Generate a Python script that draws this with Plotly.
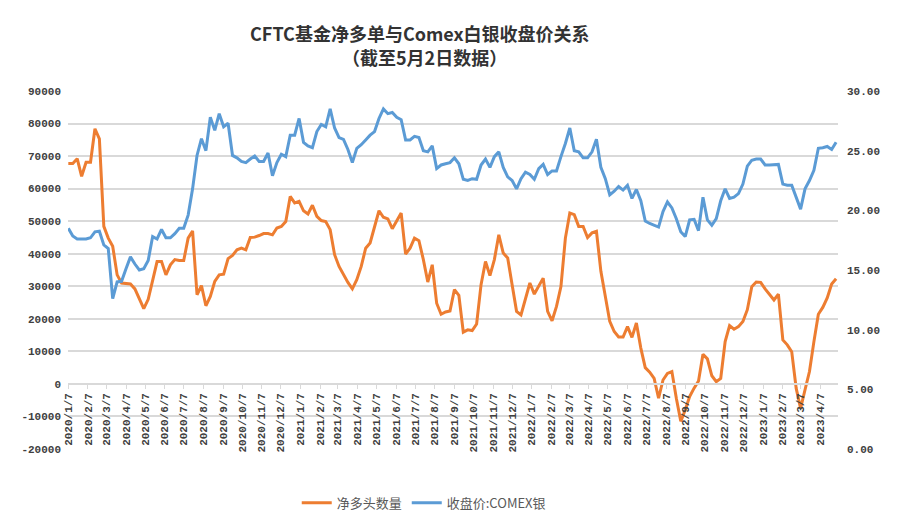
import pandas as pd
import plotly.graph_objects as go

# Weekly CFTC report dates (Tuesdays) 2020/1/7 .. 2023/5/2
dates = pd.date_range("2020-01-07", periods=174, freq="7D")

net_long = [
    67700, 67700, 69200, 63800, 68100, 68100, 78400, 75300, 48400, 44800,
    42300, 33500, 31000, 30800, 30700, 29200, 26400, 23100, 26000, 31500,
    37600, 37600, 33500, 36600, 38200, 37900, 37900, 44800, 47000, 27400,
    30200, 24000, 26900, 31500, 33500, 33700, 38500, 39500, 41200, 41700,
    41200, 45000, 45100, 45600, 46200, 46200, 45800, 47900, 48400, 49900,
    57600, 55600, 56100, 53200, 52200, 54900, 51500, 50200, 49900, 47400,
    39700, 36100, 33500, 31200, 29200, 32000, 36100, 41700, 43300, 47900,
    53200, 51200, 50700, 47700, 49900, 52500, 39900, 41700, 44800, 44000,
    38200, 31300, 36600, 24800, 21400, 22100, 22400, 29000, 27200, 15900,
    16600, 16400, 18400, 30500, 37600, 33300, 38200, 45800, 40200, 38700,
    30500, 22300, 21200, 26400, 31000, 27600, 29900, 32500, 22300, 19400,
    23800, 29900, 44800, 52500, 52000, 48400, 48400, 45000, 46400, 46900,
    34600, 26400, 19200, 16100, 14400, 14400, 17600, 14300, 18700, 11000,
    5000, 3600, 1700, -4400, 1200, 3200, 3800, -4400, -11500, -8000,
    -3900, -1300, 900, 9100, 7700, 2500, 700, 1700, 13000, 17900,
    16800, 17600, 19200, 22800, 29900, 31300, 31200, 29200, 27600, 25800,
    27600, 13500, 12000, 9900, -1300, -7500, -1800, 3800, 13000, 21400,
    23500, 26400, 30700, 32300,
]

silver_close = [
    18.5, 17.85, 17.6, 17.6, 17.6, 17.7, 18.2, 18.25, 17.1, 16.8,
    12.6, 14.0, 14.05, 15.1, 16.1, 15.5, 15.0, 15.1, 15.8, 17.8,
    17.6, 18.4, 17.7, 17.7, 18.05, 18.5, 18.5, 19.6, 21.8, 24.6,
    26.0, 25.0, 27.8, 26.7, 28.1, 27.0, 27.3, 24.6, 24.4, 24.1,
    24.0, 24.3, 24.55, 24.1, 24.1, 24.8, 22.9, 24.0, 24.7, 24.5,
    26.3, 26.3, 27.7, 25.7, 25.4, 25.25, 26.6, 27.2, 27.0, 28.5,
    26.9, 26.1, 25.95, 25.1, 24.0, 25.2, 25.5, 25.9, 26.3, 26.6,
    27.7, 28.5, 28.1, 28.2, 27.8, 27.6, 25.9, 25.9, 26.2, 26.1,
    25.0, 24.9, 25.4, 23.5, 23.8, 23.9, 24.0, 24.4, 23.9, 22.6,
    22.5, 22.65, 22.6, 23.8, 24.3, 23.6, 24.5, 24.9, 23.6, 22.8,
    22.5, 21.8, 22.65, 23.2, 23.0, 22.6, 23.5, 23.85, 23.0, 23.3,
    23.3, 24.5, 25.6, 26.9, 25.0, 24.9, 24.4, 24.4, 24.9, 25.95,
    23.6, 22.65, 21.3, 21.6, 22.0, 21.7, 22.1, 21.0, 21.75, 20.8,
    19.1, 18.9, 18.75, 18.6, 19.9, 20.7, 20.2, 19.3, 18.2, 17.8,
    19.2, 19.25, 18.3, 21.1, 19.2, 18.75, 19.3, 20.8, 21.8, 21.0,
    21.1, 21.4, 22.2, 23.7, 24.2, 24.3, 24.3, 23.8, 23.8, 23.8,
    23.85, 22.2, 22.1, 22.1, 21.1, 20.1, 21.8, 22.5, 23.35, 25.2,
    25.25, 25.35, 25.1, 25.7,
]

# Month tick labels (the 7th of each month, 2020/1/7 .. 2023/4/7)
tick_dates = pd.date_range("2020-01-01", "2023-04-01", freq="MS") + pd.Timedelta(days=6)
tick_text = [f"{d.year}/{d.month}/{d.day}" for d in tick_dates]

left_vals = list(range(-20000, 90001, 10000))
left_text = [str(v) for v in left_vals]
right_vals = [0, 5, 10, 15, 20, 25, 30]
right_text = [f"{v:.2f}" for v in right_vals]

title_line1 = "CFTC基金净多单与Comex白银收盘价关系"
title_line2 = "（截至5月2日数据）"
name_net = "净多头数量"
name_px = "收盘价:COMEX银"

ORANGE = "#ED7D31"
BLUE = "#5B9BD5"
TXT = "#404040"
GRID = "#d9d9d9"

fig = go.Figure()
fig.add_trace(go.Scatter(x=dates, y=net_long, name=name_net, mode="lines",
                         line=dict(color=ORANGE, width=3), yaxis="y"))
fig.add_trace(go.Scatter(x=dates, y=silver_close, name=name_px, mode="lines",
                         line=dict(color=BLUE, width=3), yaxis="y2"))

zero_pos = 20000 / 110000
tick_font = dict(family="Liberation Mono", size=11, color=TXT, weight="bold")

fig.update_layout(
    width=899, height=532,
    margin=dict(l=68, r=61, t=91, b=83),
    paper_bgcolor="white", plot_bgcolor="white",
    title=dict(text="<b>" + title_line1 + "</b>", x=0.467, xanchor="center",
               y=1 - 35 / 532, yanchor="middle",
               font=dict(family="Noto Sans CJK SC", size=18, color="#333333")),
    annotations=[dict(text="<b>" + title_line2 + "</b>", xref="paper", yref="paper",
                      x=(424 - 68) / 770, y=1 + (91 - 57) / 358, xanchor="center",
                      yanchor="middle", showarrow=False,
                      font=dict(family="Noto Sans CJK SC", size=18, color="#333333"))],
    xaxis=dict(type="date", range=["2020-01-06 12:00", "2023-05-05"],
               tickvals=list(tick_dates), ticktext=tick_text, tickangle=-90,
               tickfont=tick_font, ticklabeloverflow="allow",
               showgrid=False, zeroline=False, showline=True, linecolor=GRID,
               linewidth=1.5, ticks="outside", ticklen=4, tickcolor=GRID,
               anchor="free", position=zero_pos),
    yaxis=dict(range=[-20000, 90000], tickvals=left_vals, ticktext=left_text,
               tickfont=tick_font,
               showgrid=True, gridcolor=GRID, gridwidth=1.5, zeroline=False,
               showline=False, ticks="", ticklabelstandoff=6),
    yaxis2=dict(range=[0, 30], tickvals=right_vals, ticktext=right_text,
                overlaying="y", side="right", tickfont=tick_font,
                showgrid=False, zeroline=False, showline=False, ticks="",
                ticklabelstandoff=8),
    legend=dict(orientation="h", x=0.462, xanchor="center", y=-0.15, yanchor="middle",
                font=dict(family="Noto Sans CJK SC", size=13, color="#595959"),
                bgcolor="rgba(0,0,0,0)", itemwidth=30),
    showlegend=True,
)

fig.write_html("out.html", config={"displayModeBar": False},
               post_script="document.body.style.margin='0';")
